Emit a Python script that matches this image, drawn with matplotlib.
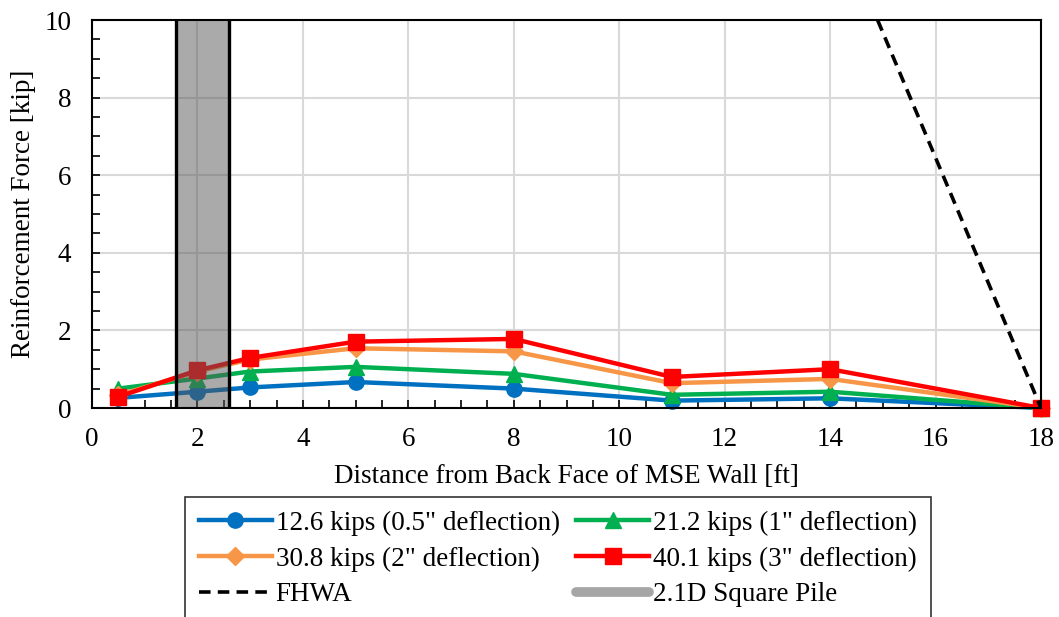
import matplotlib
matplotlib.use("Agg")
import matplotlib.pyplot as plt
from matplotlib.lines import Line2D
from matplotlib.ticker import MultipleLocator

plt.rcParams['font.family'] = ['Liberation Serif', 'DejaVu Serif']

distance = [0.5, 2, 3, 5, 8, 11, 14, 18]
force_12_6 = [0.26, 0.42, 0.53, 0.67, 0.50, 0.19, 0.25, 0.0]
force_21_2 = [0.50, 0.76, 0.94, 1.06, 0.88, 0.34, 0.42, 0.0]
force_30_8 = [0.33, 0.94, 1.25, 1.54, 1.46, 0.64, 0.75, 0.0]
force_40_1 = [0.29, 0.97, 1.29, 1.71, 1.78, 0.80, 1.00, 0.0]

fhwa_x = [14.9, 18]
fhwa_y = [10.0, 0.0]

pile_left, pile_right = 1.6, 2.6

labels = ['12.6 kips (0.5" deflection)', '21.2 kips (1" deflection)',
          '30.8 kips (2" deflection)', '40.1 kips (3" deflection)',
          'FHWA', '2.1D Square Pile']

fig = plt.figure(figsize=(10.59, 6.17), dpi=100)
ax = fig.add_axes([92/1059, 1-408/617, (1041-92)/1059, (408-20)/617])

fs = 19.5
lw = 3.2
ms = 11
series = [
    (force_12_6, '#0070C0', 'o', ms),
    (force_21_2, '#00B050', '^', ms),
    (force_30_8, '#F79646', 'D', ms*0.85),
    (force_40_1, '#FF0000', 's', ms),
]
handles = []
for (vals, col, mk, m), lab in zip(series, labels[:4]):
    h, = ax.plot(distance, vals, color=col, marker=mk, markersize=m, lw=lw,
                 label=lab, zorder=3, clip_on=False)
    handles.append(h)

ax.axvspan(pile_left, pile_right, facecolor=(0.345, 0.345, 0.345, 0.51),
           edgecolor='none', zorder=4)
ax.axvline(pile_left, color='black', lw=2.4, zorder=5)
ax.axvline(pile_right, color='black', lw=2.4, zorder=5)

dash = (0, (3.2, 2.0))
ax.plot(fhwa_x, fhwa_y, color='black', ls=dash, lw=2.6, zorder=6)

ax.set_xlim(0, 18)
ax.set_ylim(0, 10)
ax.xaxis.set_major_locator(MultipleLocator(2))
ax.xaxis.set_minor_locator(MultipleLocator(0.5))
ax.yaxis.set_major_locator(MultipleLocator(2))
ax.yaxis.set_minor_locator(MultipleLocator(0.5))
ax.grid(True, which='major', color='#D9D9D9', lw=1.5, zorder=0)
ax.set_axisbelow(True)
ax.tick_params(which='both', direction='in', labelsize=fs, width=1.2,
               top=False, right=False)
ax.tick_params(axis='x', which='major', length=6, pad=14)
ax.tick_params(axis='y', which='major', length=6, pad=15)
ax.tick_params(which='minor', length=6)
for s in ax.spines.values():
    s.set_linewidth(1.5)
    s.set_zorder(7)

ax.set_xlabel('Distance from Back Face of MSE Wall [ft]', fontsize=fs, labelpad=8)
ax.set_ylabel('Reinforcement Force [kip]', fontsize=fs, labelpad=6)

h_pile = Line2D([], [], color='#A6A6A6', lw=7, solid_capstyle='round')
h_fhwa_leg = Line2D([], [], color='black', ls=dash, lw=2.6)

leg_handles = [handles[0], handles[2], h_fhwa_leg, handles[1], handles[3], h_pile]
leg_labels = [labels[0], labels[2], labels[4], labels[1], labels[3], labels[5]]
leg = fig.legend(leg_handles, leg_labels, ncol=2, fontsize=fs,
                 loc='upper left', bbox_to_anchor=(185/1059, 1-497/617),
                 borderaxespad=0,
                 frameon=True, fancybox=False, edgecolor='black',
                 handlelength=2.7, handletextpad=0.15, columnspacing=0.6,
                 labelspacing=0.4, borderpad=0.5)
leg.get_frame().set_linewidth(1.2)

fig.savefig('out.png', dpi=100)
